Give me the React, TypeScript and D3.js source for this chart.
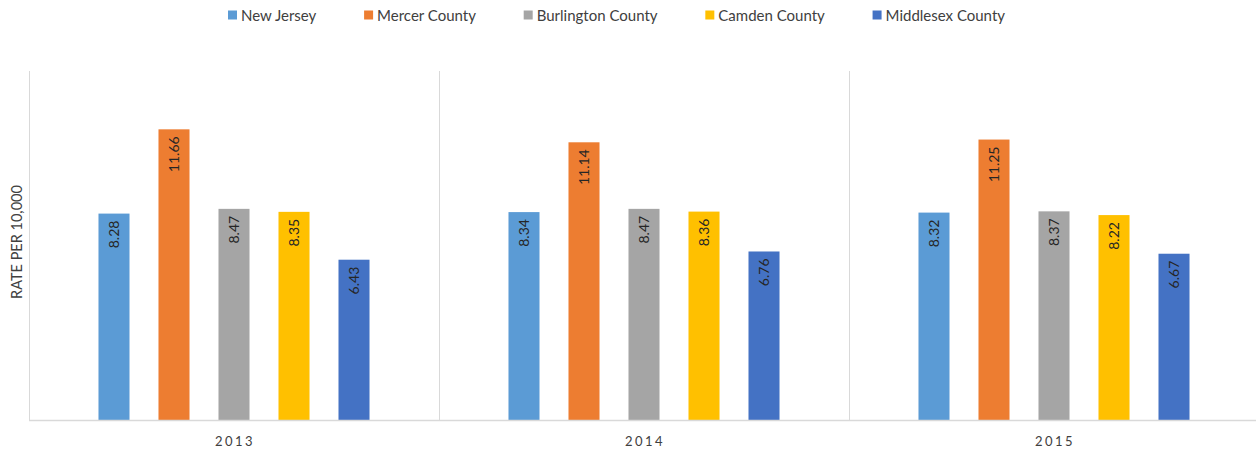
import React, { useEffect, useRef } from "react";
import * as d3 from "d3";

const years = ["2013", "2014", "2015"];
const seriesNames = ["New Jersey", "Mercer County", "Burlington County", "Camden County", "Middlesex County"];
const newJersey = [8.28, 8.34, 8.32];
const mercer = [11.66, 11.14, 11.25];
const burlington = [8.47, 8.47, 8.37];
const camden = [8.35, 8.36, 8.22];
const middlesex = [6.43, 6.76, 6.67];
const colors = ["#5B9BD5", "#ED7D31", "#A5A5A5", "#FFC000", "#4472C4"];
const yTitle = "RATE PER 10,000";

const W = 1256;
const H = 451;
const FONT = "Lato, 'Open Sans', sans-serif";

export default function App() {
  const ref = useRef<SVGSVGElement | null>(null);

  useEffect(() => {
    const svg = d3.select(ref.current);
    svg.selectAll("*").remove();

    const values = [newJersey, mercer, burlington, camden, middlesex];
    const left = 29, right = 1259, top = 71, bottom = 420;

    const x0 = d3.scaleBand<string>().domain(years).range([left, right]).padding(0);
    const x1 = d3
      .scaleBand<string>()
      .domain(seriesNames)
      .range([0, x0.bandwidth()])
      .paddingInner(0.483)
      .paddingOuter(1.158);
    const y = d3.scaleLinear().domain([0, 14]).range([bottom, top]);

    const grid = "#D9D9D9";
    const seps = [...years.map((yr) => x0(yr)!), right];
    svg
      .append("g")
      .selectAll("line")
      .data(seps)
      .join("line")
      .attr("x1", (d) => d + 0.5)
      .attr("x2", (d) => d + 0.5)
      .attr("y1", top)
      .attr("y2", bottom)
      .attr("stroke", grid)
      .attr("stroke-width", 1);

    const gBars = svg.append("g");
    years.forEach((yr, yi) => {
      seriesNames.forEach((s, si) => {
        const v = values[si][yi];
        const bx = x0(yr)! + x1(s)!;
        gBars
          .append("rect")
          .attr("x", bx)
          .attr("y", y(v))
          .attr("width", x1.bandwidth())
          .attr("height", bottom - y(v))
          .attr("fill", colors[si]);
        const cx = bx + x1.bandwidth() / 2;
        const ty = y(v) + 7;
        gBars
          .append("text")
          .attr("transform", `translate(${cx + 5},${ty}) rotate(-90)`)
          .attr("text-anchor", "end")
          .attr("font-family", FONT)
          .attr("font-size", 14)
          .attr("fill", "#262626")
          .text(v.toFixed(2));
      });
    });

    svg
      .append("line")
      .attr("x1", left)
      .attr("x2", right)
      .attr("y1", bottom + 0.5)
      .attr("y2", bottom + 0.5)
      .attr("stroke", grid)
      .attr("stroke-width", 1.5);

    svg
      .append("g")
      .selectAll("text")
      .data(years)
      .join("text")
      .attr("x", (d) => x0(d)! + x0.bandwidth() / 2 + 1)
      .attr("y", 446)
      .attr("text-anchor", "middle")
      .attr("font-family", FONT)
      .attr("font-size", 13)
      .attr("letter-spacing", 2.5)
      .attr("fill", "#404040")
      .text((d) => d);

    svg
      .append("text")
      .attr("transform", `translate(22,242) rotate(-90)`)
      .attr("text-anchor", "middle")
      .attr("font-family", FONT)
      .attr("font-size", 14.5)
      .attr("fill", "#404040")
      .text(yTitle);

    // legend
    const lg = svg.append("g");
    const widths: number[] = [];
    const groups: any[] = [];
    seriesNames.forEach((s, i) => {
      const g = lg.append("g");
      g.append("rect").attr("x", 0).attr("y", -10.5).attr("width", 9).attr("height", 9).attr("fill", colors[i]);
      const t = g
        .append("text")
        .attr("x", 13)
        .attr("y", 0)
        .attr("font-family", FONT)
        .attr("font-size", 15)
        .attr("fill", "#404040")
        .text(s);
      const tw = (t.node() as SVGTextElement).getComputedTextLength();
      widths.push(13 + tw);
      groups.push(g);
    });
    const legendLeft = 228, legendRight = 1005;
    const gap = (legendRight - legendLeft - d3.sum(widths)) / (widths.length - 1);
    let cx = 0;
    groups.forEach((g, i) => {
      g.attr("transform", `translate(${cx},0)`);
      cx += widths[i] + gap;
    });
    lg.attr("transform", `translate(${legendLeft},21)`);
  }, []);

  return (
    <svg
      ref={ref}
      width={W}
      height={H}
      style={{ position: "absolute", left: 0, top: 0, background: "#fff" }}
    />
  );
}
